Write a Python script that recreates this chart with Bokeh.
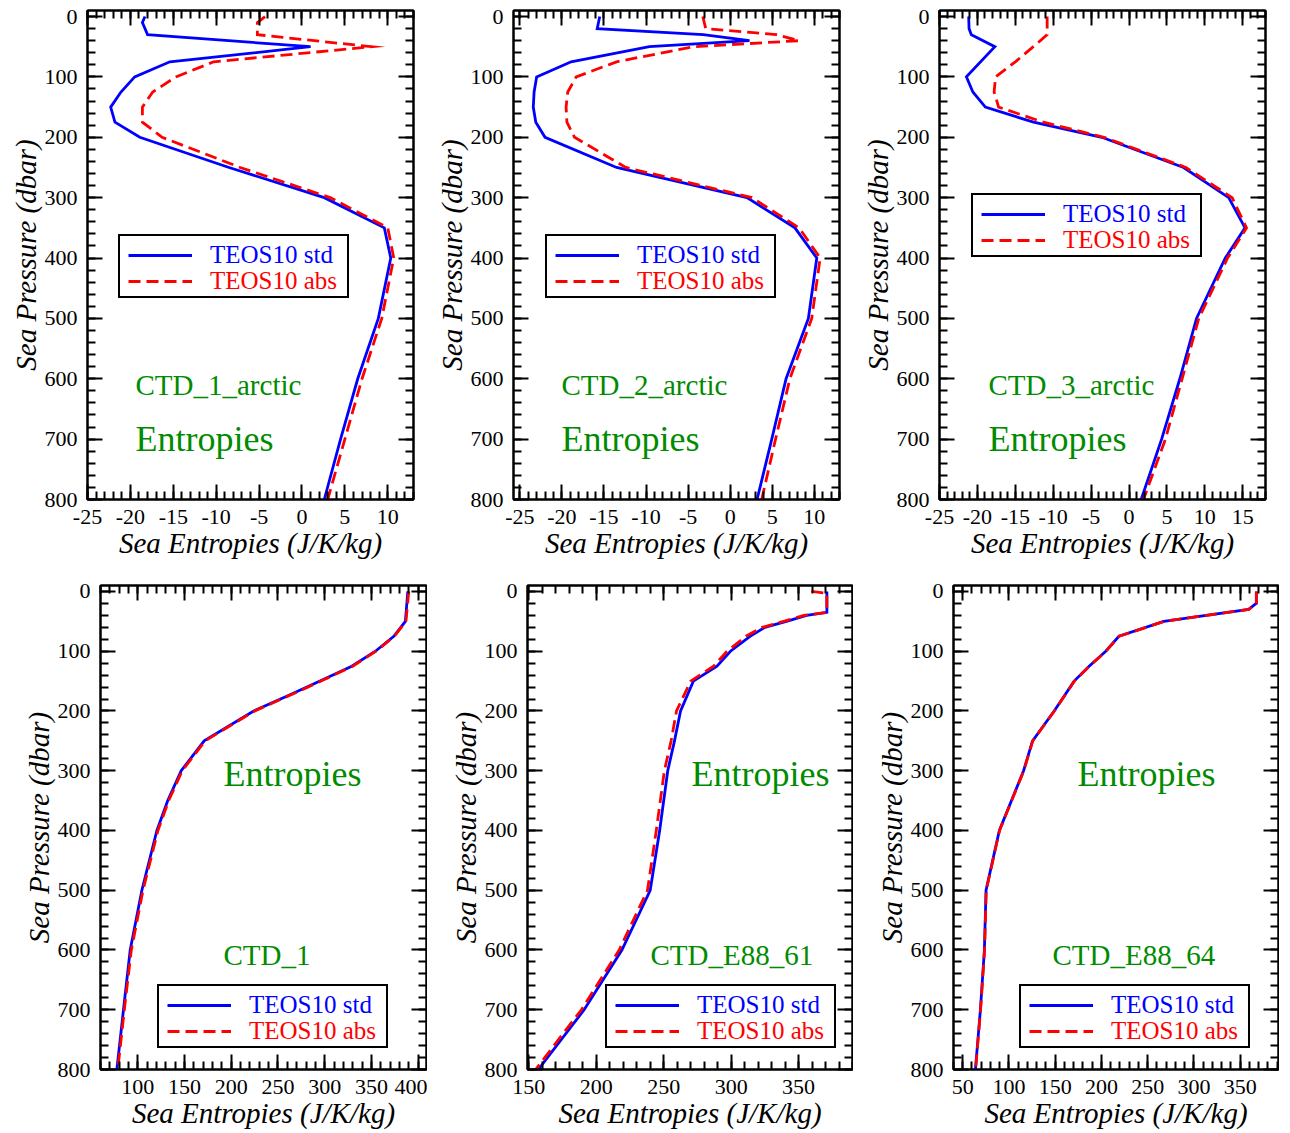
from bokeh.plotting import figure
from bokeh.layouts import row, column
from bokeh.models import (Range1d, LinearAxis, SingleIntervalTicker, Legend, LegendItem,
                          Label, CustomJSTickFormatter)
from bokeh.embed import file_html
from bokeh.resources import INLINE

# ---------------- data ----------------
# CTD_1_arctic
c1_pres_std = [0, 10, 30, 50, 75, 100, 125, 150, 175, 200, 250, 300, 350, 400, 500, 600, 700, 800]
c1_std = [-18.3, -18.6, -18.0, 1.0, -15.4, -19.5, -21.1, -22.3, -21.8, -18.9, -8.5, 2.6, 9.6, 10.35, 8.9, 6.5, 4.5, 2.6]
c1_pres_abs = [0, 10, 30, 50, 75, 100, 125, 150, 175, 200, 250, 300, 350, 400, 500, 600, 700, 800]
c1_abs = [-4.3, -5.2, -5.2, 8.1, -10.3, -14.7, -17.4, -18.6, -18.6, -16.3, -7.2, 3.3, 10.0, 10.7, 9.3, 7.0, 5.0, 3.0]

# CTD_2_arctic
c2_pres_std = [0, 20, 30, 40, 50, 75, 100, 125, 150, 175, 200, 250, 300, 350, 400, 500, 600, 700, 800]
c2_std = [-15.5, -15.8, -3.2, 2.3, -9.6, -18.9, -23.0, -23.3, -23.4, -23.1, -22.0, -13.5, 2.0, 7.7, 10.3, 9.3, 6.65, 4.95, 3.2]
c2_pres_abs = [0, 20, 30, 40, 50, 75, 100, 125, 150, 175, 200, 250, 300, 350, 400, 500, 600, 700, 800]
c2_abs = [-3.25, -2.9, 5.5, 8.2, -4.4, -13.5, -18.3, -19.3, -19.5, -19.4, -18.5, -12.4, 2.6, 8.2, 10.7, 9.7, 7.1, 5.4, 3.75]

# CTD_3_arctic
c3_pres_std = [0, 20, 30, 50, 100, 125, 150, 175, 200, 250, 300, 350, 400, 500, 600, 700, 800]
c3_std = [-21.15, -21.1, -20.8, -17.7, -21.45, -20.6, -18.95, -12.6, -3.6, 7.2, 13.15, 15.3, 12.7, 8.9, 6.7, 4.3, 1.6]
c3_pres_abs = [0, 30, 40, 75, 100, 125, 150, 175, 200, 250, 300, 350, 400, 500, 600, 700, 800]
c3_abs = [-10.8, -10.8, -11.7, -15.0, -17.6, -17.8, -17.2, -11.3, -3.3, 7.5, 13.6, 15.5, 13.0, 9.2, 7.0, 4.8, 1.9]

# CTD_1
d1_pres_std = [0, 50, 75, 100, 125, 150, 175, 200, 250, 300, 350, 400, 500, 600, 700, 800]
d1_std = [389, 386.4, 374, 354.3, 329, 295, 260, 224, 171, 146.4, 132, 120.4, 104.3, 91.8, 84.6, 77.5]
d1_pres_abs = [0, 50, 75, 100, 125, 150, 175, 200, 250, 300, 350, 400, 500, 600, 700, 800]
d1_abs = [390, 387, 374.5, 355, 330, 296, 261, 225, 172, 147.5, 133, 121.5, 105.5, 93, 85.5, 78.5]

# CTD_E88_61
d2_pres_std = [0, 35, 40, 50, 60, 75, 100, 125, 150, 200, 250, 300, 400, 500, 600, 700, 800]
d2_std = [371, 371, 356, 341, 325, 314, 299.5, 289.5, 272, 262.5, 258, 253, 247, 240, 219, 191, 157]
d2_pres_abs = [0, 3, 35, 40, 50, 60, 75, 100, 125, 150, 200, 250, 300, 400, 500, 600, 700, 800]
d2_abs = [359.5, 371, 371, 354, 339, 323, 311, 297, 287, 270, 259.5, 255.5, 250.5, 244.5, 238, 217, 189, 155]

# CTD_E88_64
d3_pres_std = [0, 20, 30, 50, 75, 100, 125, 150, 200, 250, 300, 400, 500, 600, 700, 800]
d3_std = [367.5, 367.5, 359.2, 267.5, 218.9, 204.7, 186.7, 170.5, 148.9, 125.5, 115.8, 89.6, 75.2, 73.4, 69.1, 63.7]
d3_pres_abs = [0, 20, 30, 50, 75, 100, 125, 150, 200, 250, 300, 400, 500, 600, 700, 800]
d3_abs = [367.6, 367.6, 359.3, 267.8, 219.1, 204.9, 186.9, 170.7, 149.1, 125.7, 116.0, 89.8, 75.4, 73.6, 69.3, 63.9]

series_names = ["TEOS10 std", "TEOS10 abs"]
x_title = "Sea Entropies (J/K/kg)"
y_title = "Sea Pressure (dbar)"

SERIF = "Liberation Serif"
BLUE = "#0000ff"
RED = "#ff0000"
GREEN = "#008b00"


def style_axis(ax, show_labels):
    ax.major_tick_in = 15
    ax.major_tick_out = 0
    ax.minor_tick_in = 8
    ax.minor_tick_out = 0
    ax.major_tick_line_width = 2
    ax.minor_tick_line_width = 2
    ax.major_tick_line_color = "black"
    ax.minor_tick_line_color = "black"
    ax.axis_line_width = 2
    ax.axis_line_color = "black"
    if show_labels:
        ax.formatter = CustomJSTickFormatter(code="return String(Math.round(tick))")
        ax.major_label_text_font = SERIF
        ax.major_label_text_font_size = "22px"
        ax.major_label_text_color = "black"
        ax.axis_label_text_font = SERIF
        ax.axis_label_text_font_size = "29px"
        ax.axis_label_text_font_style = "italic"
        ax.axis_label_text_color = "black"
    else:
        ax.major_label_text_font_size = "0px"
        ax.major_label_standoff = 0
        ax.formatter = CustomJSTickFormatter(code="return ''")


def make_panel(top_row, width, bl, br, xr, xint, ps, s, pa, a, leg, ctd_text, ctd_pos, ent_pos):
    if top_row:
        h, bt, bb = 575, 10, 76
    else:
        h, bt, bb = 558, 10, 64
    p = figure(width=width, height=h, x_range=Range1d(*xr), y_range=Range1d(800, -10),
               output_backend="svg", toolbar_location=None,
               min_border_left=bl, min_border_right=br, min_border_top=bt, min_border_bottom=bb)
    p.xgrid.visible = False
    p.ygrid.visible = False
    p.outline_line_color = "black"
    p.outline_line_width = 2
    p.outline_line_alpha = 1
    p.background_fill_color = "white"
    p.border_fill_color = "white"

    xt = SingleIntervalTicker(interval=xint, num_minor_ticks=5)
    yt = SingleIntervalTicker(interval=100, num_minor_ticks=5)
    xa = p.xaxis[0]
    ya = p.yaxis[0]
    xa.ticker = xt
    ya.ticker = yt
    style_axis(xa, True)
    style_axis(ya, True)
    xa.axis_label = x_title
    ya.axis_label = y_title
    xa.major_label_standoff = 10
    xa.axis_label_standoff = 0
    ya.major_label_standoff = 10
    ya.axis_label_standoff = 0

    top_ax = LinearAxis(ticker=xt)
    style_axis(top_ax, False)
    p.add_layout(top_ax, "above")
    right_ax = LinearAxis(ticker=yt)
    style_axis(right_ax, False)
    p.add_layout(right_ax, "right")

    r_std = p.line(s, ps, line_color=BLUE, line_width=2.8, line_join="miter")
    r_abs = p.line(a, pa, line_color=RED, line_width=2.8, line_dash="12 6", line_join="miter")

    # legend: bordered box + two coloured entries
    vx, vy = leg
    W, H = 227, 60
    dummy = p.line(x=[], y=[], line_alpha=0)
    box = Legend(items=[LegendItem(label=" ", renderers=[dummy])], location=(vx, vy),
                 padding=0, margin=0, spacing=0, glyph_width=W, glyph_height=H,
                 label_width=0, label_height=0, label_standoff=0, label_text_font_size="1px",
                 border_line_color="black", border_line_width=2, border_line_alpha=1,
                 background_fill_color="white", background_fill_alpha=1)
    p.add_layout(box, "center")
    for r, text, color, dy in ((r_std, series_names[0], BLUE, 28), (r_abs, series_names[1], RED, 2)):
        lg = Legend(items=[LegendItem(label=text, renderers=[r])], location=(vx + 10, vy + dy),
                    padding=0, margin=0, spacing=0, glyph_width=64, glyph_height=30,
                    label_height=30, label_standoff=18, label_text_font=SERIF,
                    label_text_font_size="25px", label_text_color=color,
                    border_line_alpha=0, background_fill_alpha=0)
        p.add_layout(lg, "center")

    p.add_layout(Label(x=ctd_pos[0], y=ctd_pos[1], x_units="screen", y_units="screen",
                       text=ctd_text, text_font=SERIF, text_font_size="29px",
                       text_color=GREEN, text_baseline="middle", text_align="left"))
    p.add_layout(Label(x=ent_pos[0], y=ent_pos[1], x_units="screen", y_units="screen",
                       text="Entropies", text_font=SERIF, text_font_size="36px",
                       text_color=GREEN, text_baseline="middle", text_align="left"))
    return p


p1 = make_panel(True, 426, 87, 13, (-25, 13), 5, c1_pres_std, c1_std, c1_pres_abs, c1_abs,
                (31, 201), "CTD_1_arctic", (48, 115), (48, 61))
p2 = make_panel(True, 426, 87, 13, (-25.75, 13), 5, c2_pres_std, c2_std, c2_pres_abs, c2_abs,
                (32, 201), "CTD_2_arctic", (48, 115), (48, 61))
p3 = make_panel(True, 426, 87, 13, (-25, 18), 5, c3_pres_std, c3_std, c3_pres_abs, c3_abs,
                (32, 242), "CTD_3_arctic", (49, 115), (49, 61))
p4 = make_panel(False, 427, 100, 1, (60, 409), 50, d1_pres_std, d1_std, d1_pres_abs, d1_abs,
                (57, 21), "CTD_1", (123, 115), (123, 296))
p5 = make_panel(False, 426, 100, 1, (149, 390), 50, d2_pres_std, d2_std, d2_pres_abs, d2_abs,
                (78, 21), "CTD_E88_61", (123, 115), (164, 296))
p6 = make_panel(False, 426, 100, 1, (40, 391.5), 50, d3_pres_std, d3_std, d3_pres_abs, d3_abs,
                (66, 21), "CTD_E88_64", (99, 115), (124, 296))

layout = column(row(p1, p2, p3), row(p4, p5, p6))

open("out.html", "w").write(file_html(layout, INLINE))
